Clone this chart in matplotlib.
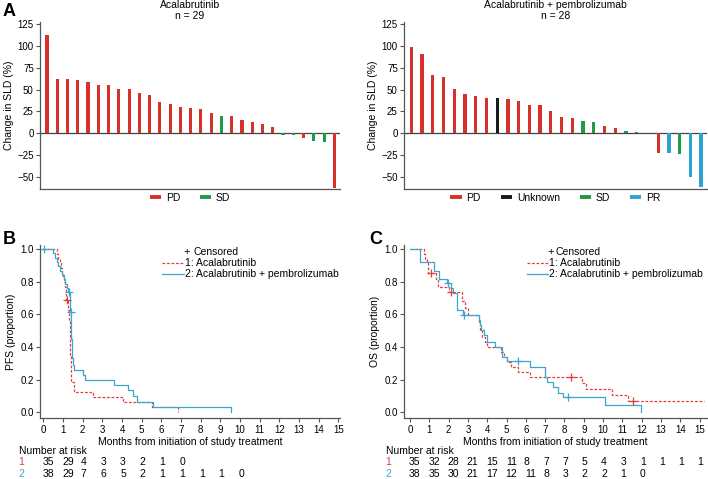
import matplotlib
matplotlib.use("Agg")
import matplotlib.pyplot as plt
from matplotlib.lines import Line2D
from matplotlib.transforms import blended_transform_factory
import numpy as np

plt.rcParams['font.family'] = ['Liberation Sans', 'DejaVu Sans']
plt.rcParams['font.size'] = 7.5

# ---------------- data ----------------
# Panel A: waterfall, acalabrutinib
wf1_values = [112.8, 62.5, 61.7, 60.6, 58.3, 54.9, 54.9, 50.7, 50.7, 46.1, 44.2, 35.8, 33.9,
              29.7, 29.0, 27.8, 23.2, 19.8, 19.4, 15.2, 13.3, 10.3, 7.2, -2.3, -2.3, -5.7,
              -8.4, -9.9, -62.5]
wf1_resp = ['PD'] * 17 + ['SD'] + ['PD'] * 5 + ['SD', 'SD', 'PD', 'SD', 'SD', 'PD']
# Panel A: waterfall, acalabrutinib + pembrolizumab
wf2_values = [99.1, 90.7, 66.7, 64.4, 50.3, 45.0, 42.3, 40.4, 40.0, 38.9, 37.0, 32.4, 32.4,
              25.2, 19.1, 17.9, 14.5, 13.0, 8.8, 5.7, 3.0, 1.5, 0.0, -22.1, -22.1, -23.6,
              -50.3, -61.0]
wf2_resp = ['PD'] * 8 + ['Unknown'] + ['PD'] * 7 + ['SD', 'SD', 'PD', 'PD', 'SD', 'SD', 'PD',
                                                  'PD', 'PR', 'SD', 'PR', 'PR']
resp_colors = {'PD': '#d9302c', 'Unknown': '#1a1a1a', 'SD': '#1f9a48', 'PR': '#2ea4d6'}

# Panel B: PFS
pfs1_t = [0, 0.68, 0.76, 0.84, 0.90, 0.96, 1.00, 1.05, 1.09, 1.13, 1.16, 1.24, 1.30, 1.34,
          1.37, 1.39, 1.42, 1.55, 2.53, 4.04, 5.50, 6.85]
pfs1_s = [1.0, 0.971, 0.943, 0.914, 0.886, 0.857, 0.829, 0.800, 0.771, 0.743, 0.686, 0.630,
          0.560, 0.480, 0.343, 0.229, 0.186, 0.127, 0.096, 0.065, 0.035, 0.0]
pfs1_cens_t = [1.19]
pfs1_cens_s = [0.686]
pfs2_t = [0, 0.51, 0.60, 0.68, 0.76, 0.86, 0.96, 1.05, 1.12, 1.18, 1.23, 1.33, 1.37, 1.42,
          1.45, 1.50, 1.58, 2.03, 2.12, 3.61, 4.30, 4.55, 4.75, 5.56, 9.55]
pfs2_s = [1.0, 0.974, 0.947, 0.921, 0.895, 0.868, 0.842, 0.816, 0.789, 0.763, 0.737, 0.660,
          0.617, 0.450, 0.330, 0.290, 0.258, 0.229, 0.198, 0.166, 0.135, 0.100, 0.066, 0.035, 0.0]
pfs2_cens_t = [0.03, 1.28, 1.39]
pfs2_cens_s = [1.0, 0.737, 0.617]
pfs_risk1 = [35, 29, 4, 3, 3, 2, 1, 0]
pfs_risk2 = [38, 29, 7, 6, 5, 2, 1, 1, 1, 1, 0]

# Panel C: OS
os1_t = [0, 0.70, 0.78, 0.88, 0.95, 1.35, 1.47, 2.00, 2.68, 2.85, 3.02, 3.55, 3.62, 3.75,
         3.90, 4.01, 4.73, 4.85, 5.00, 5.25, 5.60, 6.20, 8.90, 9.10, 10.45, 11.30]
os1_s = [1.0, 0.971, 0.943, 0.914, 0.857, 0.816, 0.771, 0.740, 0.680, 0.638, 0.597, 0.546,
         0.505, 0.464, 0.430, 0.400, 0.370, 0.340, 0.310, 0.280, 0.250, 0.215, 0.180, 0.143,
         0.107, 0.072]
os1_end = 15.2
os1_cens_t = [1.10, 2.10, 8.34, 11.55]
os1_cens_s = [0.857, 0.740, 0.215, 0.072]
os2_t = [0, 0.50, 1.22, 1.52, 1.90, 2.10, 2.25, 2.46, 2.77, 3.55, 3.62, 3.70, 3.85, 3.98,
         4.40, 4.75, 5.00, 6.20, 6.97, 7.10, 7.42, 7.65, 7.90, 10.08, 11.95]
os2_s = [1.0, 0.921, 0.868, 0.816, 0.790, 0.760, 0.730, 0.625, 0.597, 0.566, 0.536, 0.505,
         0.475, 0.430, 0.400, 0.340, 0.315, 0.280, 0.218, 0.188, 0.153, 0.120, 0.094, 0.047, 0.0]
os2_cens_t = [1.99, 2.82, 5.57, 8.18]
os2_cens_s = [0.790, 0.597, 0.315, 0.094]
os_risk1 = [35, 32, 28, 21, 15, 11, 8, 7, 7, 5, 4, 3, 1, 1, 1, 1]
os_risk2 = [38, 35, 30, 21, 17, 12, 11, 8, 3, 2, 2, 1, 0]

months = list(range(16))
km_red = '#e0403a'
km_blue = '#3ba7cc'
spine_col = '#555555'

W, H = 708, 479
fig = plt.figure(figsize=(W / 100, H / 100), dpi=100)


def frac_rect(x0, x1, ytop, ybot):
    return [x0 / W, 1 - ybot / H, (x1 - x0) / W, (ybot - ytop) / H]


def style_axes(ax):
    for s in ['top', 'right']:
        ax.spines[s].set_visible(False)
    for s in ['left', 'bottom']:
        ax.spines[s].set_color(spine_col)
        ax.spines[s].set_linewidth(0.9)
    ax.tick_params(direction='out', length=3, width=0.8, color=spine_col, labelsize=7,
                   pad=1.5)


# ---------- Panel A ----------
def waterfall(ax, values, resp, title, legend_order):
    x = np.arange(len(values))
    cols = [resp_colors[r] for r in resp]
    ax.bar(x, values, width=0.3, color=cols)
    ax.axhline(0, color='#444444', lw=0.9, zorder=0)
    ax.set_xlim(-0.68, len(values) - 0.45)
    ax.set_ylim(-63.3, 127.6)
    ax.set_yticks([-50, -25, 0, 25, 50, 75, 100, 125])
    ax.set_yticklabels(['\u221250', '\u221225', '0', '25', '50', '75', '100', '125'])
    ax.set_xticks([])
    style_axes(ax)
    ax.spines['bottom'].set_position(('data', -63.3))
    ax.set_ylabel('Change in SLD (%)', fontsize=7.5, labelpad=2)
    ax.set_title(title, fontsize=7.5, pad=2, linespacing=1.15)
    handles = [Line2D([], [], color=resp_colors[k], lw=2.8, solid_capstyle='butt')
               for k in legend_order]
    ax.legend(handles, legend_order, loc='center', bbox_to_anchor=(0.5, -0.056), ncol=len(legend_order),
              frameon=False, handlelength=1.1, handletextpad=0.45, columnspacing=1.9,
              fontsize=7.5, borderpad=0)


axA1 = fig.add_axes(frac_rect(40, 340, 21.7, 188.7))
waterfall(axA1, wf1_values, wf1_resp, 'Acalabrutinib\nn = 29', ['PD', 'SD'])
axA2 = fig.add_axes(frac_rect(404, 707, 21.7, 188.7))
waterfall(axA2, wf2_values, wf2_resp, 'Acalabrutinib + pembrolizumab\nn = 28',
          ['PD', 'Unknown', 'SD', 'PR'])


# ---------- KM panels ----------
def km_panel(ax, t1, s1, end1, c1t, c1s, t2, s2, end2, c2t, c2s, ylabel, risk1, risk2,
             xlim, leg_px, x0px, x1px, risk_x_px):
    ax.step(list(t1) + [end1], list(s1) + [s1[-1]], where='post', color=km_red, lw=0.9,
            ls=(0, (2.2, 1.4)))
    ax.step(list(t2) + [end2], list(s2) + [s2[-1]], where='post', color=km_blue, lw=0.9)
    ax.plot(c1t, c1s, ls='none', marker='+', ms=6, mew=0.9, color=km_red)
    ax.plot(c2t, c2s, ls='none', marker='+', ms=6, mew=0.9, color=km_blue)
    ax.set_xlim(*xlim)
    ax.set_ylim(-0.037, 1.026)
    ax.set_xticks(months)
    ax.set_yticks([0, 0.2, 0.4, 0.6, 0.8, 1.0])
    ax.set_yticklabels(['0.0', '0.2', '0.4', '0.6', '0.8', '1.0'])
    style_axes(ax)
    ax.set_ylabel(ylabel, fontsize=7.5, labelpad=3)
    ax.set_xlabel('Months from initiation of study treatment', fontsize=7.5, labelpad=1.5)

    # custom legend (figure pixel positions)
    plus_x, cens_x, line_x0, line_x1, text_x = leg_px
    fig.text(plus_x / W, 1 - 252 / H, '+', ha='center', va='center', fontsize=8)
    fig.text(cens_x / W, 1 - 252 / H, 'Censored', ha='left', va='center', fontsize=7.5)
    fig.add_artist(Line2D([line_x0 / W, line_x1 / W], [1 - 263.3 / H] * 2, color=km_red, lw=0.9,
                          ls=(0, (2.2, 1.4))))
    fig.text(text_x / W, 1 - 263.3 / H, '1: Acalabrutinib', ha='left', va='center', fontsize=7.5)
    fig.add_artist(Line2D([line_x0 / W, line_x1 / W], [1 - 274.3 / H] * 2, color=km_blue, lw=0.9))
    fig.text(text_x / W, 1 - 274.3 / H, '2: Acalabrutinib + pembrolizumab', ha='left',
             va='center', fontsize=7.5)

    # number at risk
    fig.text(risk_x_px / W, 1 - 450.7 / H, 'Number at risk', ha='left', va='center', fontsize=7.5)
    fig.text((risk_x_px + 2.5) / W, 1 - 461.7 / H, '1', ha='center', va='center', fontsize=7.5,
             color=km_red)
    fig.text((risk_x_px + 2.5) / W, 1 - 474.3 / H, '2', ha='center', va='center', fontsize=7.5,
             color=km_blue)
    tr = blended_transform_factory(ax.transData, fig.transFigure)
    for i, v in enumerate(risk1):
        ax.text(months[i] + (0.25 if v >= 10 else 0.05), 1 - 461.7 / H, str(v), transform=tr,
                ha='center', va='center', fontsize=7.5)
    for i, v in enumerate(risk2):
        ax.text(months[i] + (0.25 if v >= 10 else 0.05), 1 - 474.3 / H, str(v), transform=tr,
                ha='center', va='center', fontsize=7.5)


axB = fig.add_axes(frac_rect(40, 340, 245, 418.3))
km_panel(axB, pfs1_t, pfs1_s, pfs1_t[-1], pfs1_cens_t, pfs1_cens_s,
         pfs2_t, pfs2_s, pfs2_t[-1], pfs2_cens_t, pfs2_cens_s,
         'PFS (proportion)', pfs_risk1, pfs_risk2, (-0.17, 15.08),
         (187, 193.5, 162, 184, 184.5), 40, 340, 19)

axC = fig.add_axes(frac_rect(404, 707, 245, 418.3))
km_panel(axC, os1_t, os1_s, os1_end, os1_cens_t, os1_cens_s,
         os2_t, os2_s, os2_t[-1], os2_cens_t, os2_cens_s,
         'OS (proportion)', os_risk1, os_risk2, (-0.31, 15.38),
         (550.7, 555, 526.7, 548.3, 548.8), 404, 707, 385.5)

# panel letters
for lab, (px, py) in {'A': (9, 11.5), 'B': (9, 239), 'C': (375.5, 239)}.items():
    fig.text(px / W, 1 - py / H, lab, ha='center', va='center', fontsize=13, fontweight='bold')

fig.savefig('out.png', dpi=100)
